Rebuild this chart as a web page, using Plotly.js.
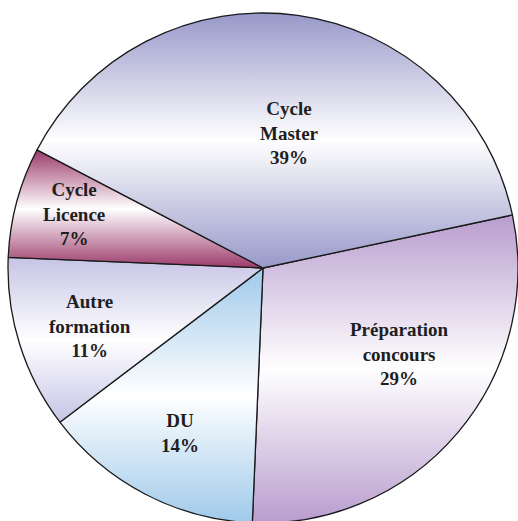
<!DOCTYPE html>
<html>
<head>
<meta charset="utf-8">
<script src="https://cdn.plot.ly/plotly-3.0.1.min.js"></script>
<style>
html, body { margin: 0; padding: 0; overflow: hidden; background: #ffffff; }
#chart { position: absolute; left: 0; top: 0; }
</style>
</head>
<body>
<div id="chart"></div>
<script>
// Data (clockwise order, starting from the Master/Préparation boundary)
var labels = ['Préparation<br>concours', 'DU', 'Autre<br>formation', 'Cycle<br>Licence', 'Cycle<br>Master'];
var values = [29, 14, 11, 7, 39];
var colors = ['#b89dce', '#9fc9ea', '#c6c4e6', '#9b3a6b', '#9898ca'];

// Style / placement settings (not data)
var W = 526, H = 536, R = 255, ROT = 78;
var labelRadius = [0.634, 0.724, 0.716, 0.771, 0.54];   // fraction of radius
var labelAngleShift = [-8, -0.9, -1.1, 0.9, 3.1];       // degrees

var total = values.reduce(function (a, b) { return a + b; }, 0);
var annotations = [];
var cum = 0;
values.forEach(function (v, i) {
  var mid = ROT + (cum + v / 2) / total * 360 + labelAngleShift[i];
  cum += v;
  var th = mid * Math.PI / 180;
  var d = labelRadius[i] * R;
  annotations.push({
    xref: 'paper', yref: 'paper',
    x: 0.5 + d * Math.sin(th) / W,
    y: 0.5 + d * Math.cos(th) / H,
    xanchor: 'center', yanchor: 'middle',
    showarrow: false,
    align: 'center',
    text: labels[i] + '<br>' + Math.round(v / total * 100) + '%',
    font: { family: 'Liberation Serif', size: 19, color: '#1e1e1e', weight: 'bold' }
  });
});

var trace = {
  type: 'pie',
  labels: labels,
  values: values,
  sort: false,
  direction: 'clockwise',
  rotation: ROT,
  marker: { colors: colors, line: { color: '#1a1a1a', width: 1.3 } },
  textinfo: 'none',
  hoverinfo: 'none',
  domain: { x: [8 / W, 518 / W], y: [13 / H, 523 / H] }
};

var layout = {
  width: W,
  height: H,
  margin: { l: 0, r: 0, t: 0, b: 0 },
  showlegend: false,
  paper_bgcolor: '#ffffff',
  font: { family: 'Liberation Serif, serif' },
  annotations: annotations
};

Plotly.newPlot('chart', [trace], layout, { staticPlot: true, displayModeBar: false }).then(function (gd) {
  // Reflected vertical gradient fill on each slice (colour -> white -> colour)
  var svgNS = 'http://www.w3.org/2000/svg';
  var svg = gd.querySelector('svg.main-svg');
  var defs = svg.querySelector('defs') || svg.insertBefore(document.createElementNS(svgNS, 'defs'), svg.firstChild);
  var paths = gd.querySelectorAll('g.slice path.surface');
  paths.forEach(function (p, i) {
    var c = colors[i % colors.length];
    var g = document.createElementNS(svgNS, 'linearGradient');
    g.setAttribute('id', 'sliceGrad' + i);
    g.setAttribute('x1', '0'); g.setAttribute('y1', '0');
    g.setAttribute('x2', '0'); g.setAttribute('y2', '1');
    [[0, c], [0.5, '#ffffff'], [1, c]].forEach(function (s) {
      var st = document.createElementNS(svgNS, 'stop');
      st.setAttribute('offset', s[0]);
      st.setAttribute('stop-color', s[1]);
      g.appendChild(st);
    });
    defs.appendChild(g);
    p.style.fill = 'url(#sliceGrad' + i + ')';
  });
});
</script>
</body>
</html>
